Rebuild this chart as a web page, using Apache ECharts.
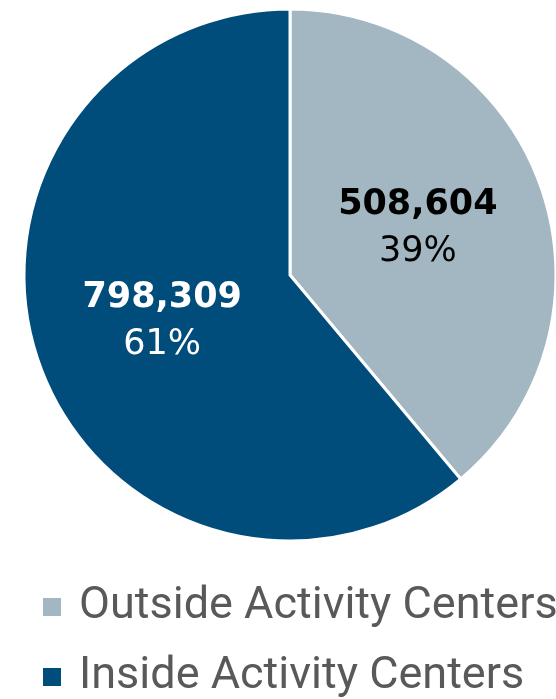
<!DOCTYPE html>
<html><head><meta charset="utf-8">
<script src="https://cdn.jsdelivr.net/npm/echarts@6/dist/echarts.min.js"></script>
<style>html,body{margin:0;padding:0;background:#fff}#c{width:556px;height:699px}</style>
</head><body><div id="c"></div>
<script>
const categories = ['Outside Activity Centers', 'Inside Activity Centers'];
const values = [508604, 798309];
const colors = ['#A2B7C1', '#004C7A'];
const labelColors = ['#000000', '#ffffff'];

const legendBase = {
  orient: 'vertical',
  left: 41,
  padding: 0,
  itemWidth: 20,
  itemHeight: 20,
  icon: 'rect',
  textStyle: { fontFamily: 'Roboto', fontSize: 45, color: '#595959', lineHeight: 50, padding: [0, 0, 0, 12] }
};

const chart = echarts.init(document.getElementById('c'));
chart.setOption({
  animation: false,
  legend: [
    Object.assign({}, legendBase, { top: 582, data: [categories[0]] }),
    Object.assign({}, legendBase, { top: 652, data: [categories[1]] })
  ],
  series: [{
    type: 'pie',
    center: [290, 275],
    radius: [0, 266],
    startAngle: 90,
    clockwise: true,
    itemStyle: { borderColor: '#fff', borderWidth: 3 },
    label: {
      position: 'inside',
      formatter: p => '{v|' + p.value.toLocaleString('en-US') + '}\n{p|' + Math.round(p.percent) + '%}',
      rich: {
        v: { fontFamily: 'DejaVu Sans', fontWeight: 'bold', fontSize: 35, lineHeight: 47 },
        p: { fontFamily: 'DejaVu Sans', fontSize: 35, lineHeight: 47 }
      }
    },
    labelLine: { show: false },
    data: categories.map((c, i) => ({
      name: c, value: values[i],
      itemStyle: { color: colors[i] },
      label: { color: labelColors[i], rich: { v: { color: labelColors[i] }, p: { color: labelColors[i] } } }
    }))
  }]
});
</script></body></html>
